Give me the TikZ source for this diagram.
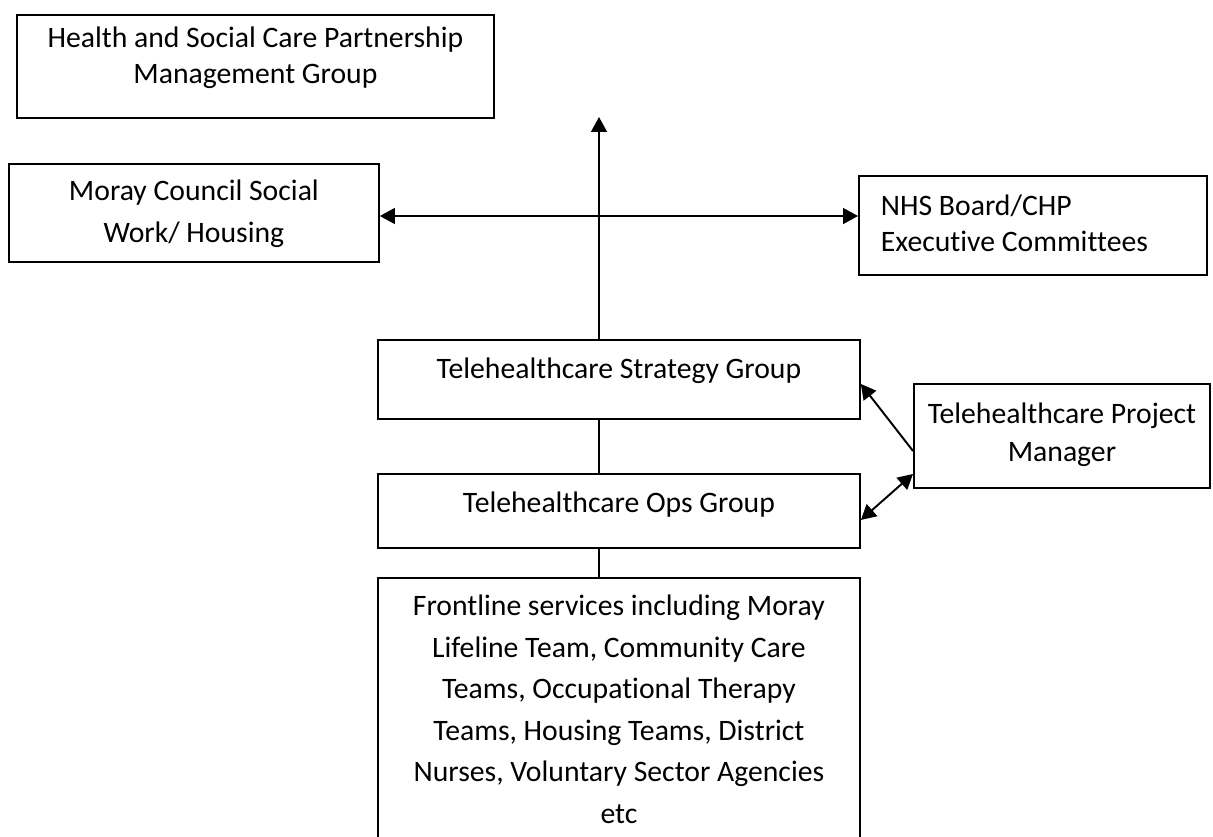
\documentclass[tikz,border=0pt]{standalone}
\usepackage{fontspec}
\setmainfont{Carlito}[Ligatures=NoCommon]
\usetikzlibrary{arrows.meta,calc}

\begin{document}
\begin{tikzpicture}[
  x=0.02cm, y=-0.02cm,
  >={Triangle[length=8.5pt, width=9pt]},
  box/.style={rectangle, draw=black, line width=1.1pt, anchor=north west,
              inner xsep=0pt, inner ysep=0pt, align=flush center},
  txt/.style={font=\fontsize{16.9pt}{#1}\selectfont},
  link/.style={line width=1.1pt, draw=black},
]
\useasboundingbox (0,0) rectangle (1213,836);
\clip (0,0) rectangle (1213,836);

% top row
\node[box, text width=9.54cm, text height=0.66cm, text depth=1.4cm, txt=20.5pt]
  (health) at (16,14) {Health and Social Care Partnership\\Management Group};
\node[box, text width=7.4cm, text height=0.74cm, text depth=1.22cm, txt=23.9pt]
  (council) at (8,163) {Moray Council Social\\Work/ Housing};
\node[box, align=flush left, inner xsep=0.44cm, text width=6.08cm, text height=0.8cm,
      text depth=1.18cm, txt=20.5pt]
  (nhs) at (858,175) {NHS Board/CHP\\Executive Committees};

% telehealthcare groups
\node[box, text width=9.64cm, text height=0.78cm, text depth=0.8cm, txt=20.5pt]
  (strategy) at (377,339) {Telehealthcare Strategy Group};
\node[box, text width=9.64cm, text height=0.78cm, text depth=0.7cm, txt=20.5pt]
  (ops) at (377,473) {Telehealthcare Ops Group};
\node[box, text width=5.92cm, text height=0.8cm, text depth=1.28cm, txt=21.6pt]
  (manager) at (913,383) {Telehealthcare Project\\Manager};
\node[box, text width=9.64cm, text height=0.76cm, text depth=4.7cm, txt=23.6pt]
  (frontline) at (377,577) {Frontline services including Moray\\Lifeline Team, Community Care\\Teams, Occupational Therapy\\Teams, Housing Teams, District\\Nurses, Voluntary Sector Agencies\\etc};

\coordinate (apex) at (599,117);
\coordinate (hub) at (599,216);

\draw[link,->] (apex |- strategy.north) -- (apex);
\draw[link,<->] (hub -| council.east) -- (hub -| nhs.west);
\draw[link] (apex |- strategy.south) -- (apex |- ops.north);
\draw[link] (apex |- ops.south) -- (apex |- frontline.north);
\draw[link,->] ($(manager.west)+(0,15)$) -- ($(strategy.east)+(0,4.5)$);
\draw[link,<->] ($(manager.west)+(0,38)$) -- ($(ops.east)+(0,9)$);

\end{tikzpicture}
\end{document}
